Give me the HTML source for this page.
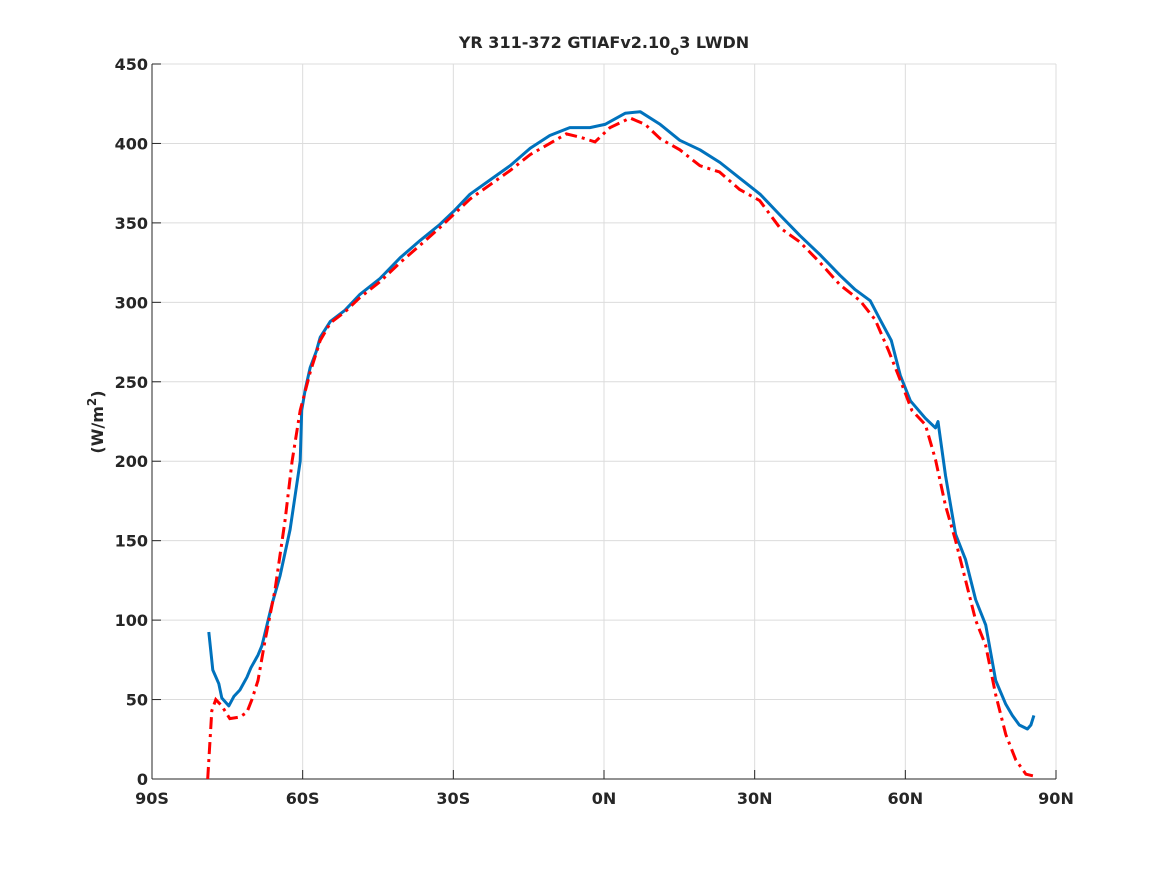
<!DOCTYPE html>
<html><head><meta charset="utf-8"><style>
body{margin:0;background:#fff}
svg text{font-family:"DejaVu Sans","Liberation Sans",sans-serif;font-weight:bold;fill:#262626}
</style></head><body>
<svg width="1167" height="875" xmlns="http://www.w3.org/2000/svg">
<rect width="1167" height="875" fill="#fff"/>
<g id="grid"></g>
<g id="axes"></g>
<g id="series"></g>
<text x="604" y="48" text-anchor="middle" font-size="16">YR 311-372 GTIAFv2.10<tspan dy="7" font-size="13">o</tspan><tspan dy="-7">3 LWDN</tspan></text>
<text transform="translate(103,422) rotate(-90)" text-anchor="middle" font-size="16">(W/m<tspan dy="-7" font-size="12">2</tspan><tspan dy="7">)</tspan></text>
</svg>
<script>
const xTicks=[-90,-60,-30,0,30,60,90];
const xTickLabels=["90S","60S","30S","0N","30N","60N","90N"];
const yTicks=[0,50,100,150,200,250,300,350,400,450];
const blueLat=[-78.7,-77.9,-76.7,-76.1,-74.7,-73.7,-72.5,-71.1,-70.3,-68.9,-68.1,-67.1,-66.1,-64.5,-62.5,-60.5,-60.2,-59.5,-58.5,-57.3,-56.5,-54.5,-51.6,-48.6,-44.6,-40.6,-36.6,-32.7,-29.7,-26.7,-22.7,-18.7,-14.7,-10.8,-6.8,-2.8,0.2,4.2,7.2,11.2,15.1,19.1,23.1,27.1,31.1,35,39,43,47,50,53,55,57.2,59,61,64,66,66.5,68,70,72,74,76,78,80,81.3,82.7,84.3,85,85.6];
const blueVal=[92.5,68.6,60,51,46,52,56,64,70,78,84,97,110,128,157,200,232,245,259,269,278,288,295,305,315,328,339,349,358,368,377,386,397,405,410,410,412,419,420,412,402,396,388,378,368,355,342,330,317,308,301,289,276,254,238,227,221,225,191,154,138,113,97,62,47,40,34,31.5,34,40];
const redLat=[-78.9,-78.1,-77.3,-76.1,-74.5,-72.5,-71.1,-70.1,-68.9,-67.5,-65.5,-63.5,-62.1,-60.5,-58.5,-56.5,-54.5,-51.6,-48.6,-44.6,-40.6,-36.6,-32.7,-29.7,-26.7,-22.7,-18.7,-14.7,-10.8,-7.5,-4.8,-1.8,1.2,5.2,8.2,11.2,15.1,19.1,23,27,31,35,39,43,47,51,54,56.6,59,61.3,64,66,68,70,72,74,76,78,80,82,84,85.4];
const redVal=[0,43,50,46,38,39,42,50,62,87,119,163,200,232,256,276,287,294,303,313,325,336,347,356,365,374,383,393,400,406,404,401,410,416,412,403,396,386,382,371,364,347,338,325,311,301,289,270,251,232,223,201,172,150,125,100,84,53,28,12,3,2];
const X0=152,X1=1056,Y0=779,Y1=64;
const sx=v=>X0+(v+90)/180*(X1-X0);
const sy=v=>Y0-v/450*(Y0-Y1);
const NS="http://www.w3.org/2000/svg";
function mk(t,a,p){const e=document.createElementNS(NS,t);for(const k in a)e.setAttribute(k,a[k]);p.appendChild(e);return e;}
const grid=document.getElementById('grid'),axes=document.getElementById('axes'),series=document.getElementById('series');
xTicks.forEach((t,i)=>{
 const g=mk('line',{x1:sx(t),x2:sx(t),y1:Y1,y2:Y0,stroke:'#dcdcdc','stroke-width':1},grid);
 
 
 const tk=mk('line',{x1:sx(t),x2:sx(t),y1:Y0,y2:Y0-9,stroke:'#262626','stroke-width':1},axes);
 
 
 const l=mk('text',{x:sx(t),y:Y0+25,'text-anchor':'middle','font-size':16},axes);
 l.textContent=xTickLabels[i];
 
 
});
yTicks.forEach(t=>{
 const g=mk('line',{x1:X0,x2:X1,y1:sy(t),y2:sy(t),stroke:'#dcdcdc','stroke-width':1},grid);
 
 
 const tk=mk('line',{x1:X0,x2:X0+9,y1:sy(t),y2:sy(t),stroke:'#262626','stroke-width':1},axes);
 
 
 const l=mk('text',{x:X0-4,y:sy(t)+6,'text-anchor':'end','font-size':16},axes);
 l.textContent=t;
 
 
});
const xa=mk('line',{x1:X0,x2:X1,y1:Y0,y2:Y0,stroke:'#262626','stroke-width':1},axes);


const ya=mk('line',{x1:X0,x2:X0,y1:Y0,y2:Y1,stroke:'#262626','stroke-width':1},axes);


function pts(la,va){return la.map((l,i)=>sx(l).toFixed(1)+','+sy(va[i]).toFixed(1)).join(' ');}
const b=mk('polyline',{points:pts(blueLat,blueVal),fill:'none',stroke:'#0072bd','stroke-width':3,'stroke-linejoin':'round'},series);


const r=mk('polyline',{points:pts(redLat,redVal),fill:'none',stroke:'#ff0000','stroke-width':3,'stroke-dasharray':'12,5,3,5'},series);


</script>
</body></html>
